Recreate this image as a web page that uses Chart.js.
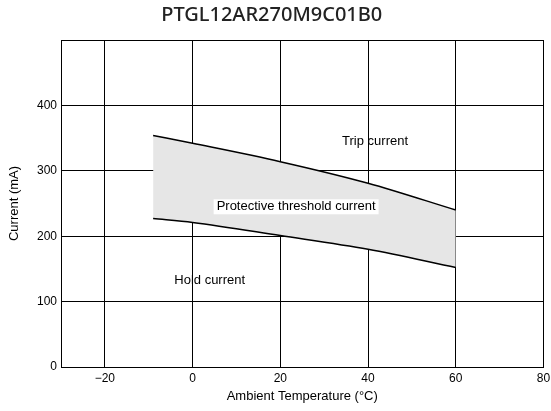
<!DOCTYPE html>
<html>
<head>
<meta charset="utf-8">
<script src="https://cdn.jsdelivr.net/npm/chart.js@4/dist/chart.umd.min.js"></script>
<style>
  html, body { margin: 0; padding: 0; background: #fff; }
  #wrap { width: 551px; height: 411px; }
</style>
</head>
<body>
<div id="wrap"><canvas id="myChart" width="551" height="411"></canvas></div>
<script>
// values
const temps = [-9, 0, 20, 40, 60];
const tripCurrent = [354, 342, 314, 281, 240];
const holdCurrent = [227, 221, 201, 180, 152];
const xTicks = [-20, 0, 20, 40, 60, 80];
const yTicks = [0, 100, 200, 300, 400];

// text labels placed in data coordinates
const notes = [
  { text: 'Trip current', x: 41.6, y: 345, bg: false },
  { text: 'Protective threshold current', x: 23.6, y: 245, bg: true },
  { text: 'Hold current', x: 3.9, y: 132, bg: false }
];

const toPts = (xs, ys) => xs.map((x, i) => ({ x: x, y: ys[i] }));
const fontFamily = '"Liberation Sans", Arial, sans-serif';

const notePlugin = {
  id: 'notes',
  afterDatasetsDraw(chart) {
    const c = chart.ctx;
    const sx = chart.scales.x, sy = chart.scales.y;
    c.save();
    c.font = '13px ' + fontFamily;
    c.textAlign = 'center';
    c.textBaseline = 'middle';
    notes.forEach(n => {
      const px = sx.getPixelForValue(n.x);
      const py = sy.getPixelForValue(n.y);
      if (n.bg) {
        const w = c.measureText(n.text).width;
        c.fillStyle = '#fff';
        c.fillRect(px - w / 2 - 3, py - 7.5, w + 6, 15);
      }
      c.fillStyle = '#000';
      c.fillText(n.text, px, py);
    });
    c.restore();
  }
};

const ctx = document.getElementById('myChart');

new Chart(ctx, {
  type: 'line',
  data: {
    datasets: [{
      label: 'Trip current',
      data: toPts(temps, tripCurrent),
      borderColor: '#000',
      borderWidth: 1.5,
      pointRadius: 0,
      cubicInterpolationMode: 'monotone',
      fill: false
    }, {
      label: 'Hold current',
      data: toPts(temps, holdCurrent),
      borderColor: '#000',
      borderWidth: 1.5,
      pointRadius: 0,
      cubicInterpolationMode: 'monotone',
      fill: '-1',
      backgroundColor: '#e6e6e6'
    }]
  },
  options: {
    animation: false,
    responsive: false,
    layout: { padding: { left: 0, right: 7.5, top: 0, bottom: 0 } },
    plugins: {
      legend: { display: false },
      tooltip: { enabled: false },
      title: {
        display: true,
        text: 'PTGL12AR270M9C01B0',
        color: '#222',
        font: { family: '"Noto Sans", sans-serif', size: 20, weight: '500' },
        padding: { top: 3, bottom: 13 }
      }
    },
    scales: {
      x: {
        type: 'linear',
        min: -30,
        max: 80,
        afterBuildTicks: s => { s.ticks = xTicks.map(v => ({ value: v })); },
        afterFit: s => { s.height = 44; s.paddingLeft = 0; s.paddingRight = 0; },
        ticks: {
          color: '#000',
          font: { family: fontFamily, size: 12 },
          padding: 4,
          maxRotation: 0,
          autoSkip: false,
          callback: v => (v < 0 ? '\u2212' + Math.abs(v) : String(v))
        },
        grid: { color: '#000', lineWidth: 1, drawTicks: false },
        border: { color: '#000', width: 1 },
        title: {
          display: true,
          text: 'Ambient Temperature (\u00b0C)',
          color: '#000',
          font: { family: fontFamily, size: 13 },
          padding: { top: 0, bottom: 7 }
        }
      },
      y: {
        min: 0,
        max: 500,
        afterBuildTicks: s => { s.ticks = yTicks.concat([500]).map(v => ({ value: v })); },
        afterFit: s => { s.width = 61; },
        ticks: {
          color: '#000',
          font: { family: fontFamily, size: 12 },
          padding: 4,
          callback: v => (v === 500 ? '' : String(v))
        },
        grid: { color: '#000', lineWidth: 1, drawTicks: false },
        border: { color: '#000', width: 1 },
        title: {
          display: true,
          text: 'Current (mA)',
          color: '#000',
          font: { family: fontFamily, size: 13 },
          padding: { top: 7, bottom: 0 }
        }
      }
    }
  },
  plugins: [notePlugin]
});
</script>
</body>
</html>
